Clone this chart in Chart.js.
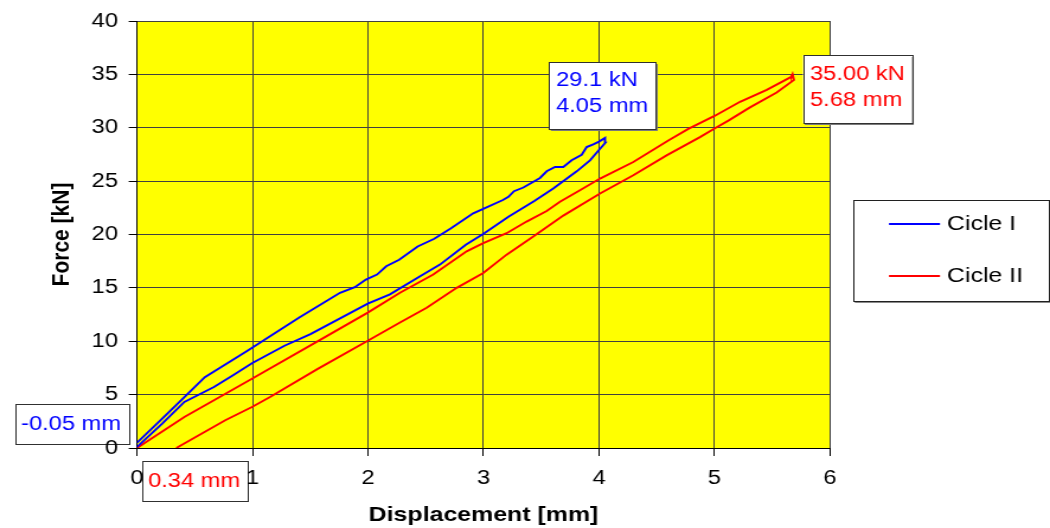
<!DOCTYPE html>
<html><head><meta charset="utf-8">
<style>
html,body{margin:0;padding:0;background:#fff;overflow:hidden}
</style>
<script src="https://cdn.jsdelivr.net/npm/chart.js@4/dist/chart.umd.min.js"></script>
</head><body>
<canvas id="c" width="886" height="528" style="display:block;width:1050px;height:528px"></canvas>
<script>
// ---------- data ----------
const seriesNames = ['Cicle I', 'Cicle II'];

// Cicle I : loading branch then return branch (mm, kN)
const cycle1Disp = [0.00, 0.218, 0.41, 0.666, 0.828, 0.995, 1.277, 1.502, 1.998, 2.19, 2.462, 2.623, 2.847, 3.007, 3.216, 3.44, 3.604, 3.807, 3.922, 4.009, 4.055, 4.052,
  4.00, 3.95, 3.893, 3.85, 3.763, 3.691, 3.619, 3.547, 3.489, 3.345, 3.264, 3.216, 3.168, 3.007, 2.911, 2.719, 2.574, 2.43, 2.27, 2.158, 2.078, 1.982, 1.886, 1.758, 1.405, 0.956, 0.587, 0.41, 0.218, 0.00];
const cycle1Force = [0.1, 2.29, 4.31, 5.71, 6.79, 7.94, 9.58, 10.67, 13.52, 14.39, 16.16, 17.18, 19.04, 20.12, 21.67, 23.13, 24.31, 25.92, 26.95, 28.03, 28.6, 29.05,
  28.7, 28.45, 28.19, 27.47, 26.95, 26.33, 26.33, 25.92, 25.3, 24.4, 24.06, 23.53, 23.23, 22.45, 21.98, 20.59, 19.6, 18.88, 17.64, 17.02, 16.25, 15.78, 15.07, 14.54, 12.22, 9.12, 6.64, 4.77, 2.76, 0.5];

// Cicle II : loading branch then return branch (mm, kN)
const cycle2Disp = [0.34, 0.764, 0.995, 1.152, 1.565, 1.998, 2.277, 2.508, 2.768, 2.998, 3.2, 3.431, 3.691, 4.009, 4.297, 4.585, 4.874, 5.004, 5.12, 5.307, 5.538, 5.688, 5.676,
  5.668, 5.452, 5.221, 5.004, 4.773, 4.6, 4.297, 4.009, 3.835, 3.662, 3.547, 3.373, 3.2, 2.998, 2.854, 2.565, 2.277, 1.998, 1.597, 0.995, 0.41, 0.00];
const cycle2Force = [0.0, 2.6, 3.84, 4.77, 7.41, 10.05, 11.75, 13.14, 15.0, 16.4, 18.11, 19.81, 21.77, 23.84, 25.55, 27.41, 29.12, 29.95, 30.67, 31.91, 33.3, 34.48, 35.0,
  34.79, 33.55, 32.43, 31.13, 29.89, 28.81, 26.79, 25.24, 24.15, 23.07, 22.2, 21.21, 20.12, 19.19, 18.42, 16.25, 14.54, 12.68, 10.2, 6.48, 2.91, 0.0];

const xAxisRange = [0, 6, 1];
const yAxisRange = [0, 40, 5];
const xAxisTitle = 'Displacement [mm]';
const yAxisTitle = 'Force [kN]';
const annotationTexts = [['-0.05 mm'], ['0.34 mm'], ['29.1 kN', '4.05 mm'], ['35.00 kN', '5.68 mm']];

// ---------- layout (reference is horizontally stretched) ----------
const CW = 886, K = 1050 / CW;
const sx = v => v / K;
const FONT = "'Liberation Sans', Arial, Helvetica, sans-serif";
const BLUE = '#0000FF', RED = '#FF0000';

const toPts = (xs, ys) => xs.map((x, i) => ({x: x, y: ys[i]}));

function box(ctx, x, y, w, h, shadow) {
  ctx.save();
  if (shadow) {
    ctx.fillStyle = '#7a7a7a';
    ctx.fillRect(sx(x) + 1.5, y + 2, sx(w), h);
  }
  ctx.fillStyle = '#fff';
  ctx.fillRect(sx(x), y, sx(w), h);
  ctx.strokeStyle = '#303030';
  ctx.lineWidth = 1;
  ctx.strokeRect(Math.round(sx(x)) + 0.5, y + 0.5, Math.round(sx(w)), h);
  ctx.restore();
}

const annoSpecs = [
  {b: [15, 404, 114, 40], tx: 21, ty: [424], c: BLUE, s: false},
  {b: [142, 461, 106, 40], tx: 148, ty: [481], c: RED, s: false},
  {b: [549, 62, 107, 67], tx: 556, ty: [80, 106.5], c: BLUE, s: true},
  {b: [803, 55, 109, 68], tx: 810, ty: [74.5, 100.5], c: RED, s: true}
];

function drawAnno(ctx, i) {
  const sp = annoSpecs[i];
  box(ctx, sp.b[0], sp.b[1], sp.b[2], sp.b[3], sp.s);
  ctx.save();
  ctx.fillStyle = sp.c;
  ctx.font = '20px ' + FONT;
  ctx.textBaseline = 'middle';
  ctx.textAlign = 'left';
  annotationTexts[i].forEach((t, j) => ctx.fillText(t, sx(sp.tx), sp.ty[j]));
  ctx.restore();
}

const bgPlugin = {
  id: 'bg',
  beforeDraw(chart) {
    const {ctx, chartArea: a} = chart;
    ctx.save();
    ctx.fillStyle = '#fff';
    ctx.fillRect(0, 0, chart.width, chart.height);
    ctx.fillStyle = '#FFFF00';
    ctx.fillRect(a.left, a.top, a.right - a.left, a.bottom - a.top);
    ctx.restore();
    drawAnno(ctx, 0);
    drawAnno(ctx, 1);
  }
};

const annoPlugin = {
  id: 'anno',
  afterDraw(chart) {
    const ctx = chart.ctx;
    drawAnno(ctx, 2);
    drawAnno(ctx, 3);

    // legend
    ctx.save();
    ctx.fillStyle = '#8a8a8a';
    ctx.fillRect(sx(853) + 1.5, 202, sx(196), 101);
    ctx.fillStyle = '#fff';
    ctx.fillRect(sx(853), 200, sx(196), 101);
    ctx.strokeStyle = '#202020';
    ctx.lineWidth = 1;
    ctx.strokeRect(Math.round(sx(853)) + 0.5, 200.5, Math.round(sx(195)), 101);
    const colors = [BLUE, RED];
    const ys = [224, 276];
    ctx.font = '21px ' + FONT;
    ctx.textBaseline = 'middle';
    seriesNames.forEach((n, i) => {
      ctx.strokeStyle = colors[i];
      ctx.lineWidth = 2;
      ctx.beginPath();
      ctx.moveTo(sx(889), ys[i]);
      ctx.lineTo(sx(940), ys[i]);
      ctx.stroke();
      ctx.fillStyle = '#000';
      ctx.fillText(n, sx(947), ys[i]);
    });
    ctx.restore();
  }
};

new Chart(document.getElementById('c'), {
  type: 'scatter',
  data: {
    datasets: [
      {label: seriesNames[0], data: toPts(cycle1Disp, cycle1Force), borderColor: BLUE, backgroundColor: BLUE,
        showLine: true, pointRadius: 0, borderWidth: 1.9, tension: 0},
      {label: seriesNames[1], data: toPts(cycle2Disp, cycle2Force), borderColor: RED, backgroundColor: RED,
        showLine: true, pointRadius: 0, borderWidth: 1.9, tension: 0}
    ]
  },
  options: {
    responsive: false,
    animation: false,
    devicePixelRatio: 1,
    events: [],
    layout: {padding: {left: 0, right: CW - sx(830), top: 18, bottom: 0}},
    plugins: {legend: {display: false}, tooltip: {enabled: false}},
    scales: {
      x: {
        type: 'linear', min: xAxisRange[0], max: xAxisRange[1],
        ticks: {stepSize: xAxisRange[2], color: '#000', font: {family: FONT, size: 20}, padding: 10, maxRotation: 0},
        grid: {color: '#404040', lineWidth: 1, tickLength: 8, tickColor: '#000', drawTicks: true},
        border: {color: '#000', width: 1},
        title: {display: true, text: xAxisTitle, color: '#000', font: {family: FONT, size: 21, weight: 'bold'}, padding: {top: 0, bottom: 0}},
        afterFit(s) { s.height = 80; }
      },
      y: {
        type: 'linear', min: yAxisRange[0], max: yAxisRange[1],
        ticks: {stepSize: yAxisRange[2], color: '#000', font: {family: FONT, size: 20}, padding: 9},
        grid: {color: '#404040', lineWidth: 1, tickLength: 7, tickColor: '#000', drawTicks: true},
        border: {color: '#000', width: 1},
        title: {display: true, text: yAxisTitle, color: '#000', font: {family: FONT, size: 21, weight: 'bold'}, padding: {top: 40, bottom: 0}},
        afterFit(s) { s.width = sx(137); }
      }
    }
  },
  plugins: [bgPlugin, annoPlugin]
});
</script>
</body></html>
